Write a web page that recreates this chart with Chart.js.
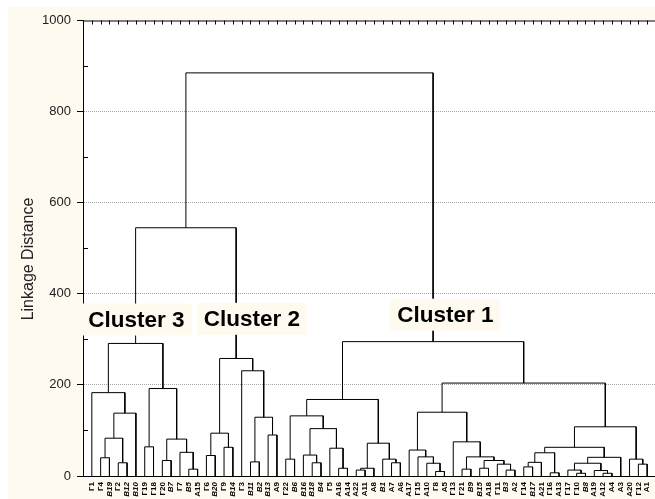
<!DOCTYPE html>
<html>
<head>
<meta charset="utf-8">
<script src="https://cdn.jsdelivr.net/npm/chart.js@4.4.1/dist/chart.umd.min.js"></script>
<style>
  html, body { margin: 0; padding: 0; background: #fff; overflow: hidden; }
  #frame { position: absolute; left: 8px; top: 7px; width: 680px; height: 500px; background: #fffaf0; }
  #wrap { position: absolute; left: 0; top: 0; width: 672px; height: 499px; }
</style>
</head>
<body>
<div id="frame"></div>
<div id="wrap"><canvas id="chart"></canvas></div>
<script>
// leaf order along the x axis
const leaves = [
  "Г1", "Г4", "В19", "Г2", "В12", "В10", "Г19", "Г18", "Г20", "В7", "Г7", "В5", "А15",
  "Г6", "В20", "Г9", "В14", "Г3", "В11", "В2", "В13", "А9",
  "Г22", "В6", "В16", "В18", "В4", "Г5", "А16", "А14", "А22", "А11", "А8", "В1", "А7", "А6",
  "А17", "Г15", "А10", "Г8", "А5", "Г13", "Г21", "В9", "В15", "А18", "Г11", "В3", "А2",
  "Г14", "В17", "А21", "Г16", "А13", "Г17", "Г10", "В8", "А19", "А12", "А4", "А3", "А20", "Г12", "А1"
];

// joins: a string is a leaf, a number is an earlier join
const joinLeft = [
  "Г4", "Г2", 0, 2, "Г1", "Г19", "Г20", "В5", "Г7", 6, 5, 4,
  "Г6", "Г9", 12, "В11", "В13", 15, "Г3", 14,
  11,
  "Г22", "В18", "В16", "А16", "Г5", 23, 21, "А22", 28, "А7", "В1", 29, 27,
  "Г8", "А10", "Г15", "А17", "Г21", "В15", "В3", "Г11", 39, 38, "Г13", 37,
  "Г14", 46, "Г16", 47, "Г10", "Г17", "А12", "А19", 51, 54, 49, "Г12", "А20", 56, 45, 33,
  20
];
const joinRight = [
  "В19", "В12", 1, "В10", 3, "Г18", "В7", "А15", 7, 8, 9, 10,
  "В20", "В14", 13, "В2", "А9", 16, 17, 18,
  19,
  "В6", "В4", 22, "А14", 24, 25, 26, "А11", "А8", "А6", 30, 31, 32,
  "А5", 34, 35, 36, "В9", "А18", "А2", 40, 41, 42, 43, 44,
  "В17", "А21", "А13", 48, "В8", 50, "А4", 52, 53, "А3", 55, "А1", 57, 58, 59, 60,
  61
];
const joinHeight = [
  40, 29, 83, 138, 183, 64, 34, 15, 52, 81, 192, 291,
  45, 63, 94, 31, 90, 129, 231, 258,
  545,
  37, 29, 46, 17, 61, 104, 132, 13, 17, 29, 37, 72, 168,
  10, 28, 42, 57, 15, 17, 13, 26, 34, 42, 75, 140,
  20, 30, 7, 51, 6, 13, 6, 12, 28, 41, 63, 26, 37, 108, 204, 295,
  885
];

const yTicks = [0, 200, 400, 600, 800, 1000];
const yMinorTicks = [100, 300, 500, 700, 900];
const yTitle = "Linkage Distance";
const clusterNames = ["Cluster 3", "Cluster 2", "Cluster 1"];

// build the dendrogram elbows from the joins
const joinX = [];
const posOf = (ref) => (typeof ref === "number" ? joinX[ref] : leaves.indexOf(ref) + 1);
const heightOf = (ref) => (typeof ref === "number" ? joinHeight[ref] : 0);
const segments = [];
joinHeight.forEach((h, k) => {
  const xa = posOf(joinLeft[k]);
  const xb = posOf(joinRight[k]);
  joinX[k] = (xa + xb) / 2;
  segments.push(
    { x: xa, y: heightOf(joinLeft[k]) },
    { x: xa, y: h },
    { x: xb, y: h },
    { x: xb, y: heightOf(joinRight[k]) },
    { x: xb, y: null }
  );
});

const frame = {
  id: "frame",
  beforeDraw(chart) {
    const { ctx, chartArea: a } = chart;
    ctx.save();
    ctx.fillStyle = "#fff";
    ctx.fillRect(a.left, a.top, a.right - a.left, a.bottom - a.top);
    ctx.restore();
  },
  afterDraw(chart) {
    const { ctx, chartArea: a, scales } = chart;
    ctx.save();
    ctx.strokeStyle = "#000";
    ctx.lineWidth = 1;
    ctx.beginPath();
    ctx.moveTo(a.left, a.top + 0.5);
    ctx.lineTo(a.right, a.top + 0.5);
    leaves.forEach((_, i) => {
      const x = Math.round(scales.x.getPixelForValue(i + 1)) + 0.5;
      ctx.moveTo(x, a.top);
      ctx.lineTo(x, a.top + 4);
    });
    yMinorTicks.forEach((v) => {
      const y = Math.round(scales.y.getPixelForValue(v)) + 0.5;
      ctx.moveTo(a.left, y);
      ctx.lineTo(a.left + 5, y);
    });
    ctx.stroke();

    // axis title
    ctx.fillStyle = "#222";
    ctx.font = "16px 'Liberation Sans', Arial, sans-serif";
    ctx.textAlign = "center";
    ctx.textBaseline = "middle";
    ctx.translate(29, 259);
    ctx.rotate(-Math.PI / 2);
    ctx.fillText(yTitle, 0, 0);
    ctx.restore();

    // cluster captions
    const spots = [
      { x: 6.06, y: 343.6 },
      { x: 19.17, y: 345.1 },
      { x: 41.1, y: 354.1 }
    ];
    ctx.save();
    ctx.font = "bold 22.5px 'Liberation Sans', Arial, sans-serif";
    ctx.textAlign = "center";
    ctx.textBaseline = "middle";
    clusterNames.forEach((name, i) => {
      const cx = scales.x.getPixelForValue(spots[i].x);
      const cy = scales.y.getPixelForValue(spots[i].y);
      const w = ctx.measureText(name).width + 14;
      ctx.fillStyle = "#fffaf0";
      ctx.fillRect(cx - w / 2, cy - 16, w, 32);
      ctx.fillStyle = "#000";
      ctx.fillText(name, cx, cy + 1);
    });
    ctx.restore();
  }
};

new Chart(document.getElementById("chart"), {
  type: "scatter",
  data: {
    datasets: [{
      data: segments,
      showLine: true,
      borderColor: "#000",
      borderWidth: 1,
      pointRadius: 0,
      spanGaps: false
    }]
  },
  options: {
    responsive: true,
    maintainAspectRatio: false,
    animation: false,
    layout: { padding: { top: 20.5, right: 16, left: 0, bottom: 0 } },
    plugins: { legend: { display: false }, tooltip: { enabled: false } },
    scales: {
      x: {
        type: "linear",
        min: 0,
        max: leaves.length + 1,
        afterBuildTicks: (s) => { s.ticks = leaves.map((_, i) => ({ value: i + 1 })); },
        afterFit: (s) => { s.height = 23; },
        grid: { display: false, drawTicks: false },
        border: { color: "#000", width: 1 },
        ticks: {
          autoSkip: false,
          minRotation: 90,
          maxRotation: 90,
          padding: 6,
          color: "#000",
          font: (c) => ({
            family: "'Liberation Sans', Arial, sans-serif",
            size: 8,
            weight: "bold",
            style: String(leaves[c.index] || "").startsWith("В") ? "italic" : "normal"
          }),
          callback: (v) => leaves[v - 1]
        }
      },
      y: {
        min: 0,
        max: 1000,
        afterBuildTicks: (s) => { s.ticks = yTicks.map((v) => ({ value: v })); },
        afterFit: (s) => { s.width = 83; },
        grid: {
          color: (c) => (c.tick && c.tick.value > 0 && c.tick.value < 1000 ? "#a8a8a8" : "rgba(0,0,0,0)"),
          tickColor: "#000",
          tickLength: 6,
          lineWidth: 1
        },
        border: { color: "#000", width: 1, dash: [1, 1] },
        ticks: {
          padding: 6,
          color: "#222",
          font: { family: "'Liberation Sans', Arial, sans-serif", size: 13 },
          callback: (v) => String(v)
        }
      }
    }
  },
  plugins: [frame]
});
</script>
</body>
</html>
